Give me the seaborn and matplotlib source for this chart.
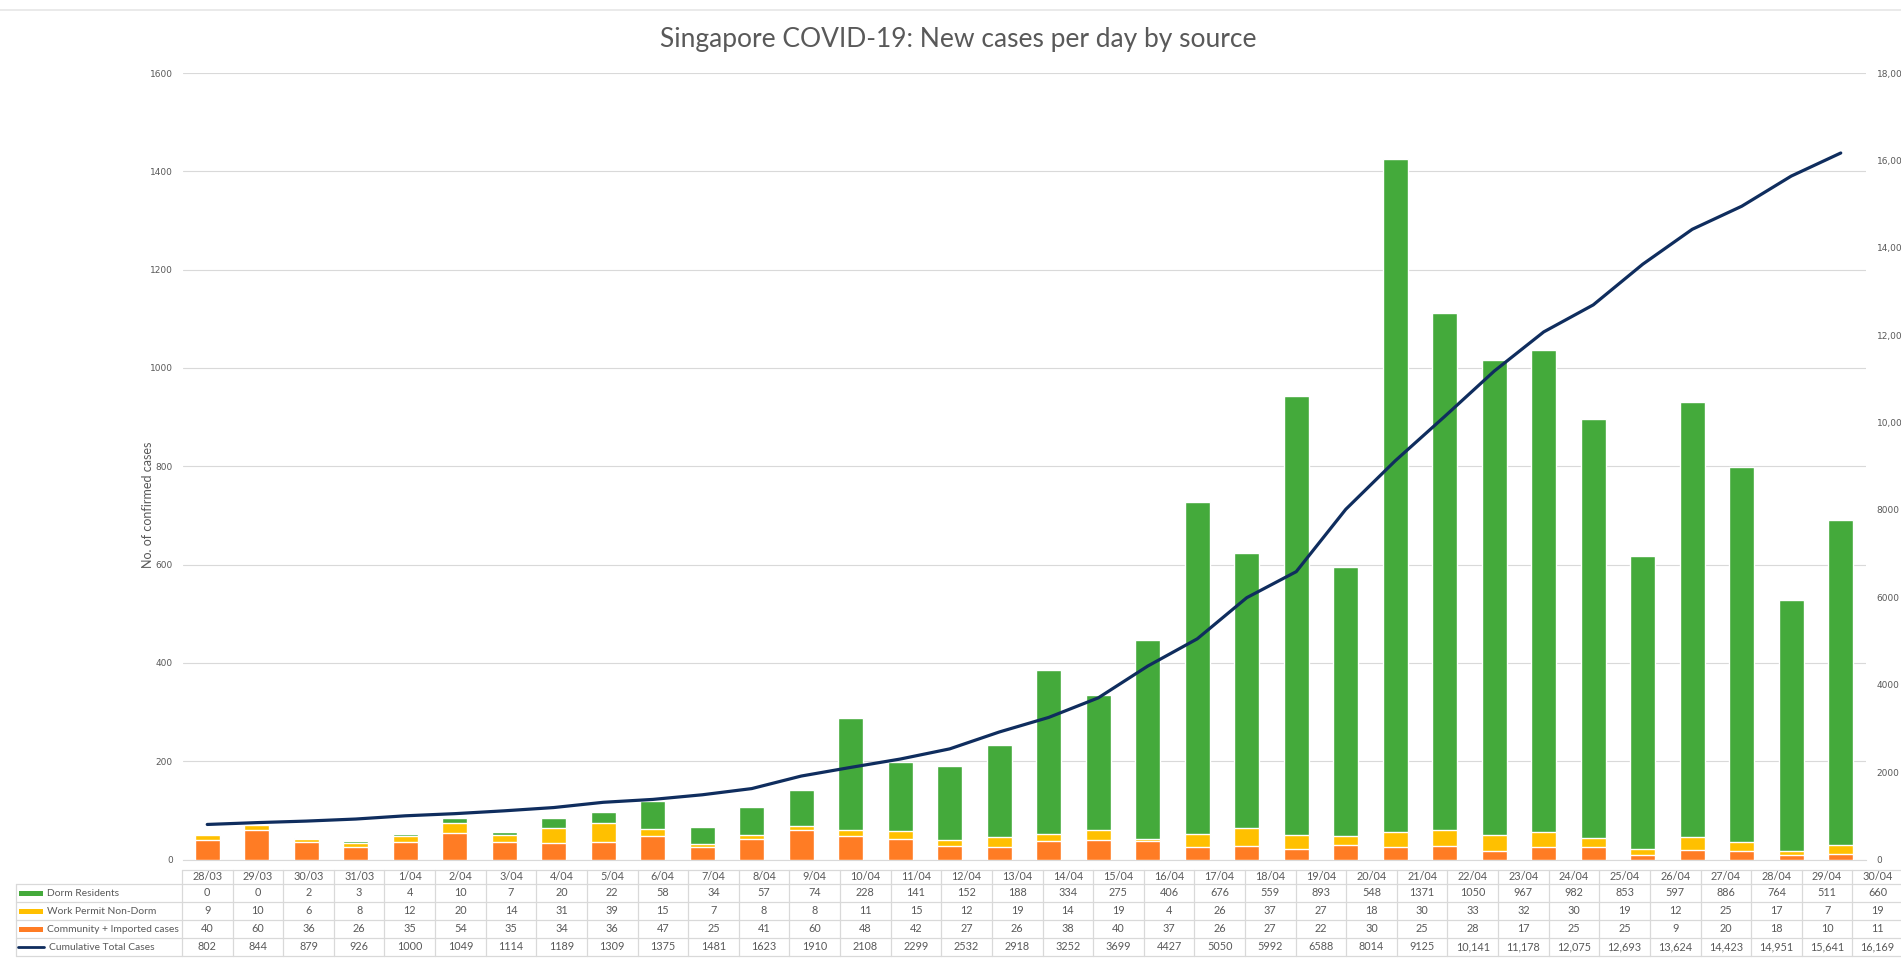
import numpy as np
import pandas as pd
import matplotlib
matplotlib.use("Agg")
import matplotlib.pyplot as plt
from matplotlib.lines import Line2D
from matplotlib.patches import Rectangle
import seaborn as sns

# ---------------- data ----------------
dates = ["28/03", "29/03", "30/03", "31/03", "1/04", "2/04", "3/04", "4/04", "5/04", "6/04",
         "7/04", "8/04", "9/04", "10/04", "11/04", "12/04", "13/04", "14/04", "15/04", "16/04",
         "17/04", "18/04", "19/04", "20/04", "21/04", "22/04", "23/04", "24/04", "25/04", "26/04",
         "27/04", "28/04", "29/04", "30/04"]
dorm = [0, 0, 2, 3, 4, 10, 7, 20, 22, 58, 34, 57, 74, 228, 141, 152, 188, 334, 275, 406,
        676, 559, 893, 548, 1371, 1050, 967, 982, 853, 597, 886, 764, 511, 660]
work_permit = [9, 10, 6, 8, 12, 20, 14, 31, 39, 15, 7, 8, 8, 11, 15, 12, 19, 14, 19, 4,
               26, 37, 27, 18, 30, 33, 32, 30, 19, 12, 25, 17, 7, 19]
community = [40, 60, 36, 26, 35, 54, 35, 34, 36, 47, 25, 41, 60, 48, 42, 27, 26, 38, 40, 37,
             26, 27, 22, 30, 25, 28, 17, 25, 25, 9, 20, 18, 10, 11]
cumulative = [802, 844, 879, 926, 1000, 1049, 1114, 1189, 1309, 1375, 1481, 1623, 1910, 2108,
              2299, 2532, 2918, 3252, 3699, 4427, 5050, 5992, 6588, 8014, 9125, 10141, 11178,
              12075, 12693, 13624, 14423, 14951, 15641, 16169]
cum_labels = ["802", "844", "879", "926", "1000", "1049", "1114", "1189", "1309", "1375", "1481",
              "1623", "1910", "2108", "2299", "2532", "2918", "3252", "3699", "4427", "5050",
              "5992", "6588", "8014", "9125", "10,141", "11,178", "12,075", "12,693", "13,624",
              "14,423", "14,951", "15,641", "16,169"]
series_names = ["Dorm Residents", "Work Permit Non-Dorm", "Community + Imported cases",
                "Cumulative Total Cases"]
left_ticks = [0, 200, 400, 600, 800, 1000, 1200, 1400, 1600]
right_ticks = [0, 2000, 4000, 6000, 8000, 10000, 12000, 14000, 16000, 18000]
right_tick_labels = ["0", "2000", "4000", "6000", "8000", "10,000", "12,000", "14,000",
                     "16,000", "18,000"]
title = "Singapore COVID-19: New cases per day by source"
ylabel = "No. of confirmed cases"
# --------------------------------------

n = len(dates)

GREEN = "#44AA3B"
YELLOW = "#FFC000"
ORANGE = "#FF7C24"
NAVY = "#0F2D5E"
TXT = "#595959"
GRID = "#D9D9D9"

sns.set_theme(style="white")
plt.rcParams["font.family"] = ["Lato", "DejaVu Sans"]

W, H = 1901, 965
fig = plt.figure(figsize=(W / 100, H / 100), dpi=100)
fig.patch.set_facecolor("white")

px_left, px_right, px_top, px_bottom = 182.5, 1865.5, 73, 859.5
ax = fig.add_axes([px_left / W, 1 - px_bottom / H, (px_right - px_left) / W,
                   (px_bottom - px_top) / H])

df = pd.DataFrame({"date": dates, "dorm": dorm, "wp": work_permit, "comm": community,
                   "cum": cumulative})
df["total"] = df["dorm"] + df["wp"] + df["comm"]
df["low2"] = df["wp"] + df["comm"]

# stacked bars: draw cumulative heights from the tallest layer down
sns.barplot(data=df, x="date", y="total", color=GREEN, saturation=1, width=0.5, ax=ax, zorder=2)
sns.barplot(data=df, x="date", y="low2", color=YELLOW, saturation=1, width=0.5, ax=ax, zorder=3)
sns.barplot(data=df, x="date", y="comm", color=ORANGE, saturation=1, width=0.5, ax=ax, zorder=4)

ax.set_xlim(-0.5, n - 0.5)
ax.set_ylim(0, 1600)
ax.set_yticks(left_ticks)
ax.set_yticklabels([str(t) for t in left_ticks], family="DejaVu Sans", fontsize=6.5, color=TXT)
ax.tick_params(axis="y", length=0, pad=7)
ax.set_xticks([])
ax.set_xlabel("")
ax.set_ylabel("")
ax.grid(axis="y", color=GRID, lw=0.8, zorder=0)
ax.set_axisbelow(True)
for s in ["top", "right", "left"]:
    ax.spines[s].set_visible(False)
ax.spines["bottom"].set_color(GRID)
ax.spines["bottom"].set_linewidth(0.8)
ax.patch.set_alpha(0)

ax2 = ax.twinx()
sns.lineplot(x=np.arange(n), y=df["cum"].values, color=NAVY, lw=2.3, ax=ax2, zorder=5)
ax2.set_ylim(0, 18000)
ax2.set_xlim(-0.5, n - 0.5)
ax2.set_yticks(right_ticks)
ax2.set_yticklabels(right_tick_labels, family="DejaVu Sans", fontsize=6.5, color=TXT)
ax2.tick_params(axis="y", length=0, pad=8)
for s in ax2.spines.values():
    s.set_visible(False)
ax2.grid(False)

# --- title / axis label ---
fig.text(958 / W, 1 - 40 / H, title, ha="center", va="center", fontsize=19, color=TXT)
fig.text(148 / W, 1 - 505 / H, ylabel, ha="center", va="center", rotation=90, fontsize=9,
         color=TXT)
fig.add_artist(Line2D([0, 1], [1 - 10 / H, 1 - 10 / H], color="#E6E6E6", lw=1.2))

# --- data table ---
tx0, tx1, ty0, ty1 = 16, 1903, 870, 956
tax = fig.add_axes([tx0 / W, 1 - ty1 / H, (tx1 - tx0) / W, (ty1 - ty0) / H])
tax.set_xlim(tx0, tx1)
tax.set_ylim(ty1, ty0)
tax.axis("off")
col0 = 182.0
colw = (1903 - col0) / n
rows = [870, 884, 902, 920, 938, 956]
lc = dict(color=GRID, lw=0.9, clip_on=False)
tax.plot([col0, col0 + n * colw], [rows[0], rows[0]], **lc)
for r in rows[1:]:
    tax.plot([tx0, col0 + n * colw], [r, r], **lc)
tax.plot([tx0, tx0], [rows[1], rows[-1]], **lc)
for i in range(n + 1):
    x = col0 + i * colw
    tax.plot([x, x], [rows[0], rows[-1]], **lc)

tfs = 7.8
row_vals = [dorm, work_permit, community, cum_labels]
for i in range(n):
    cx = col0 + (i + 0.5) * colw
    tax.text(cx, (rows[0] + rows[1]) / 2, dates[i], ha="center", va="center", fontsize=tfs,
             color=TXT)
    for r, vals in enumerate(row_vals):
        tax.text(cx, (rows[r + 1] + rows[r + 2]) / 2, str(vals[i]), ha="center", va="center",
                 fontsize=tfs, color=TXT)

sw_colors = [GREEN, YELLOW, ORANGE]
for r, name in enumerate(series_names):
    cy = (rows[r + 1] + rows[r + 2]) / 2
    if r < 3:
        tax.add_patch(Rectangle((19, cy - 2.5), 24, 5, color=sw_colors[r], lw=0))
    else:
        tax.plot([18, 44], [cy, cy], color=NAVY, lw=2)
    tax.text(47 if r < 3 else 49, cy, name, ha="left", va="center", fontsize=7.4, color=TXT)

fig.savefig("out.png", dpi=100, facecolor="white")
